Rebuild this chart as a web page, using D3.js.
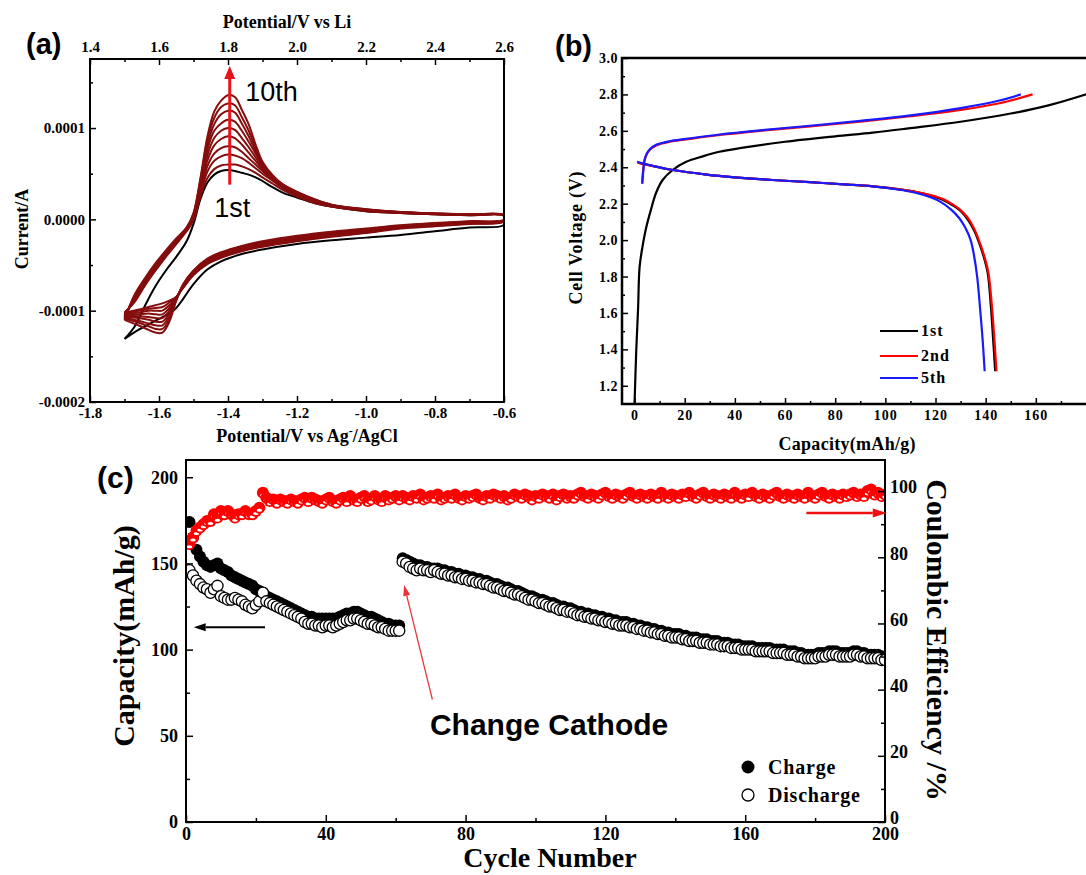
<!DOCTYPE html>
<html>
<head>
<meta charset="utf-8">
<script src="https://cdn.jsdelivr.net/npm/d3@7"></script>
<style>
  body { margin: 0; background: #fff; }
</style>
</head>
<body>
<svg id="fig" width="1086" height="875"></svg>
<script>
// ---------- (a) cyclic voltammetry, current in units of 1e-4 A ----------
var cvAnodicV = [-1.70,-1.67,-1.64,-1.61,-1.58,-1.55,-1.52,-1.50,-1.48,-1.46,-1.44,-1.42,-1.40,-1.38,
  -1.36,-1.34,-1.32,-1.30,-1.27,-1.24,-1.20,-1.15,-1.10,-1.00,-0.90,-0.80,-0.70,-0.60];
var cvCathodicV = [-0.60,-0.70,-0.80,-0.90,-1.00,-1.10,-1.20,-1.30,-1.36,-1.42,-1.46,-1.50,-1.53,
  -1.55,-1.57,-1.59,-1.61,-1.63,-1.66,-1.70];

// one row per cycle, 1st .. 10th
var cvAnodicI = [
  [-1.31,-1.17,-0.94,-0.73,-0.56,-0.41,-0.24,-0.05,0.22,0.40,0.49,0.53,0.54,0.53,0.51,0.49,0.46,0.42,0.35,0.29,0.24,0.18,0.14,0.09,0.07,0.055,0.045,0.04],
  [-1.02,-0.90,-0.72,-0.56,-0.41,-0.27,-0.13,-0.01,0.25,0.45,0.55,0.59,0.60,0.60,0.58,0.55,0.51,0.46,0.39,0.32,0.25,0.18,0.14,0.09,0.07,0.055,0.045,0.04],
  [-1.03,-0.89,-0.71,-0.55,-0.40,-0.26,-0.12,0.00,0.28,0.52,0.64,0.69,0.71,0.70,0.67,0.62,0.56,0.50,0.42,0.34,0.26,0.19,0.14,0.095,0.07,0.057,0.047,0.04],
  [-1.04,-0.88,-0.70,-0.54,-0.39,-0.25,-0.12,0.01,0.30,0.58,0.72,0.78,0.80,0.79,0.74,0.67,0.60,0.53,0.43,0.35,0.27,0.19,0.145,0.10,0.072,0.058,0.048,0.042],
  [-1.05,-0.87,-0.69,-0.53,-0.38,-0.25,-0.11,0.02,0.33,0.64,0.81,0.88,0.91,0.89,0.82,0.73,0.64,0.55,0.44,0.36,0.28,0.20,0.15,0.10,0.074,0.06,0.05,0.043],
  [-1.06,-0.86,-0.68,-0.52,-0.37,-0.24,-0.11,0.03,0.36,0.70,0.89,0.97,1.00,0.98,0.89,0.79,0.68,0.57,0.45,0.36,0.28,0.20,0.15,0.10,0.075,0.06,0.05,0.043],
  [-1.07,-0.85,-0.67,-0.51,-0.37,-0.23,-0.10,0.04,0.38,0.76,0.97,1.05,1.09,1.07,0.97,0.85,0.72,0.59,0.46,0.37,0.29,0.21,0.155,0.105,0.077,0.062,0.052,0.044],
  [-1.08,-0.84,-0.66,-0.50,-0.36,-0.23,-0.10,0.05,0.41,0.81,1.04,1.15,1.19,1.17,1.05,0.91,0.75,0.60,0.47,0.37,0.29,0.21,0.155,0.105,0.078,0.063,0.053,0.044],
  [-1.09,-0.83,-0.65,-0.49,-0.35,-0.22,-0.09,0.06,0.43,0.86,1.11,1.23,1.27,1.25,1.12,0.97,0.78,0.61,0.47,0.38,0.30,0.22,0.16,0.11,0.08,0.064,0.054,0.045],
  [-1.10,-0.82,-0.64,-0.48,-0.34,-0.21,-0.09,0.07,0.45,0.90,1.18,1.30,1.36,1.34,1.20,1.04,0.82,0.63,0.48,0.38,0.30,0.22,0.16,0.11,0.08,0.065,0.055,0.045]
];
var cvCathodicI = [
  [-0.06,-0.09,-0.13,-0.17,-0.20,-0.23,-0.27,-0.33,-0.38,-0.46,-0.55,-0.71,-0.87,-0.97,-1.03,-1.07,-1.11,-1.15,-1.21,-1.31],
  [-0.025,-0.05,-0.075,-0.10,-0.15,-0.19,-0.24,-0.30,-0.35,-0.42,-0.49,-0.61,-0.75,-0.85,-0.89,-0.92,-0.94,-0.96,-0.99,-1.02],
  [-0.022,-0.046,-0.071,-0.096,-0.144,-0.183,-0.233,-0.293,-0.343,-0.413,-0.483,-0.604,-0.745,-0.85,-0.91,-0.96,-0.97,-0.98,-1.00,-1.03],
  [-0.020,-0.042,-0.066,-0.091,-0.138,-0.176,-0.225,-0.285,-0.335,-0.405,-0.475,-0.598,-0.74,-0.86,-0.94,-1.00,-1.00,-1.00,-1.02,-1.04],
  [-0.017,-0.039,-0.062,-0.087,-0.131,-0.169,-0.218,-0.278,-0.328,-0.398,-0.468,-0.591,-0.735,-0.86,-0.97,-1.04,-1.04,-1.03,-1.04,-1.05],
  [-0.015,-0.035,-0.058,-0.083,-0.125,-0.163,-0.21,-0.27,-0.32,-0.39,-0.46,-0.585,-0.73,-0.87,-1.00,-1.08,-1.08,-1.07,-1.06,-1.06],
  [-0.012,-0.031,-0.053,-0.078,-0.119,-0.156,-0.203,-0.263,-0.313,-0.383,-0.453,-0.579,-0.725,-0.87,-1.03,-1.12,-1.12,-1.10,-1.08,-1.07],
  [-0.010,-0.027,-0.049,-0.074,-0.113,-0.149,-0.195,-0.255,-0.305,-0.375,-0.445,-0.573,-0.72,-0.88,-1.06,-1.16,-1.16,-1.14,-1.11,-1.08],
  [-0.007,-0.024,-0.044,-0.069,-0.106,-0.142,-0.188,-0.248,-0.298,-0.368,-0.438,-0.566,-0.715,-0.88,-1.09,-1.20,-1.20,-1.17,-1.13,-1.09],
  [-0.005,-0.02,-0.04,-0.065,-0.10,-0.135,-0.18,-0.24,-0.29,-0.36,-0.43,-0.56,-0.71,-0.89,-1.12,-1.24,-1.24,-1.21,-1.16,-1.10]
];

// ---------- (b) charge / discharge profiles ----------
var chg1Cap = [0,0.7,1.4,2.0,3.0,4.5,6.6,8.6,11.2,15.2,20.6,27.2,33.8,42,60,80,95,110,130,150,165,181];
var chg1V   = [1.10,1.40,1.62,1.85,1.95,2.06,2.17,2.26,2.33,2.385,2.43,2.46,2.485,2.505,2.54,2.57,2.59,2.615,2.65,2.695,2.74,2.805];
var chg2Cap = [3.0,3.4,4.0,5.0,6.0,8.6,13.9,20.6,33.9,50,70,90,110,130,145,158.7];
var chg2V   = [2.31,2.38,2.44,2.475,2.495,2.52,2.54,2.553,2.577,2.60,2.625,2.65,2.68,2.715,2.75,2.80];
var chg5Cap = [3.1,3.5,4.0,5.0,6.0,8.6,13.9,20.6,33.9,50,70,90,110,130,145,154];
var chg5V   = [2.31,2.38,2.44,2.478,2.498,2.523,2.543,2.556,2.58,2.603,2.628,2.655,2.685,2.725,2.765,2.80];
var dis1Cap = [1.3,8,15.3,28.7,40,55,70,85,95,105,112,118,123,127,130,133,135.5,137.5,139.4,140.8,142,143,143.8];
var dis1V   = [2.425,2.405,2.385,2.36,2.345,2.33,2.318,2.305,2.295,2.28,2.265,2.245,2.22,2.19,2.16,2.11,2.05,1.98,1.90,1.82,1.65,1.45,1.28];
var dis2Cap = [1.3,8,15.3,28.7,40,55,70,85,95,105,112,118,123,127,130,133,135.5,137.8,139.7,141.1,142.4,143.5,144.3];
var dis2V   = [2.425,2.405,2.385,2.36,2.345,2.33,2.318,2.305,2.295,2.28,2.265,2.247,2.225,2.195,2.165,2.12,2.06,1.98,1.90,1.82,1.65,1.45,1.28];
var dis5Cap = [1.0,8,15.3,28.7,40,55,70,85,95,105,112,118,122,126,129.5,132,134,135.3,136.6,137.8,138.8,139.6];
var dis5V   = [2.43,2.405,2.385,2.36,2.345,2.33,2.318,2.305,2.295,2.278,2.26,2.235,2.21,2.17,2.12,2.065,2.0,1.92,1.80,1.62,1.45,1.28];
var legendB = ["1st", "2nd", "5th"];

// ---------- (c) cycling ----------
var chargeCap = [
  174,165,158,154,151,149,148,149,150,147, 146,145,143,142,141,140,139,138,137,135,
  134,133,131,130,129,128,127,126,125,124, 123,122,121,120,119,119,118,118,118,118,
  118,118,118,119,120,121,121,122,122,121, 120,119,119,118,117,116,115,115,114,114,
  114,153,152,151,150,149,149,148,148,147, 147,147,146,146,145,145,144,144,143,143,
  142,142,141,141,140,140,139,138,138,137, 136,136,135,134,134,133,132,131,131,130,
  129,129,128,127,127,126,125,125,124,124, 123,122,122,121,121,120,120,119,119,118,
  118,117,117,116,116,116,115,115,114,114, 113,113,112,112,111,111,110,110,109,109,
  109,108,108,107,107,107,106,106,106,105, 105,105,104,104,104,103,103,103,102,102,
  102,102,101,101,101,101,101,100,100,100, 100,99,99,99,98,98,97,97,97,97,
  98,98,98,99,99,99,98,98,98,98, 99,99,98,98,97,97,97,97,96,96
];
var dischargeCap = [
  146,143,140,138,136,135,133,135,137,131, 130,129,129,130,129,128,126,125,124,126,
  128,133,128,127,126,125,124,123,122,121, 120,119,118,116,115,115,114,114,113,114,
  114,113,114,115,116,117,117,118,118,117, 116,115,115,114,113,113,112,111,111,111,
  111,151,150,148,147,146,147,146,146,145, 146,145,144,144,143,143,142,142,141,141,
  140,140,139,139,138,138,137,136,136,135, 134,134,133,132,132,131,130,129,129,128,
  127,127,126,125,125,124,123,123,122,122, 121,120,120,119,119,118,118,117,117,116,
  116,115,115,114,114,114,113,113,112,112, 111,111,110,110,109,109,108,108,107,107,
  107,106,106,105,105,105,104,104,104,103, 103,103,102,102,102,101,101,101,100,100,
  100,100,99,99,99,99,99,98,98,98, 98,97,97,97,96,96,95,95,95,95,
  96,96,96,97,97,97,96,96,96,96, 97,97,96,96,95,95,95,95,94,94
];
var coulombicEff = [
  84,86,88,89,90,91,91,93,92,94, 93,94,93,92,93,93,94,93,93,94,
  95,99.5,98,97,97.5,96.5,97.5,97,96.5,97.5, 97,96.5,97.5,98,97,98,97.5,97,96.5,97.5,
  98,97,96.5,97.5,98,97,98.5,97.5,97,98, 98.5,97,97.5,98.5,97.5,97,98.5,97.5,98,98.5,
  97.5,98.5,98,97.5,98.5,98,99,97.5,98,98.5, 98,99,97.5,98,98.5,98,99,98,97.5,98.5,
  98,98.5,99,98,97.5,98.5,98,99,98.5,98, 98.5,97.5,98,99,98.5,98,99,98.5,97.5,98.5,
  98,99,98.5,98,99,97.5,98.5,99,98,98.5, 98,99,99.5,98.5,98,99,98.5,98,99,99.5,
  98.5,98,99,98.5,98,99,99.5,98.5,98,99, 98.5,98,99,98.5,98,99.5,98.5,98,99,98.5,
  98,99,98.5,99.5,98.5,98,99,99.5,98.5,98, 99,98.5,98,99,98.5,98,99.5,98.5,98,99,
  98.5,99.5,98.5,98,99,98.5,98,99,99.5,98.5, 98,99,98.5,98,99,98.5,98,99.5,98.5,98,
  99,99.5,98.5,98,99,98.5,98,99,98.5,99, 99.5,98.5,99,98.5,100,100.5,99,99.5,98.5,99
];
var legendC = ["Charge", "Discharge"];

var serif = "'Liberation Serif','Times New Roman',serif",
    sans = "'Liberation Sans',Arial,sans-serif";
var cvRed = "#850d0d";

var svg = d3.select("#fig");

// Axis helper: inward ticks, no domain line
function addAxis(gen, x, y, size) {
  var g = svg.append("g")
    .attr("transform", "translate(" + x + "," + y + ")")
    .call(gen);
  g.select(".domain").remove();
  g.attr("font-family", serif)
    .attr("font-size", size)
    .attr("font-weight", "bold");
  g.selectAll(".tick line").attr("stroke", "#000").attr("stroke-width", 1.5);
  g.selectAll(".tick text").attr("fill", "#000");
  return g;
}

function arrow(g, x1, y1, x2, y2, color, width, len, half) {
  var a = Math.atan2(y2 - y1, x2 - x1),
      bx = x2 - len * Math.cos(a),
      by = y2 - len * Math.sin(a);
  g.append("line")
    .attr("x1", x1).attr("y1", y1).attr("x2", bx).attr("y2", by)
    .attr("stroke", color).attr("stroke-width", width);
  g.append("path")
    .attr("d", "M" + x2 + "," + y2 +
      "L" + (bx + half * Math.sin(a)) + "," + (by - half * Math.cos(a)) +
      "L" + (bx - half * Math.sin(a)) + "," + (by + half * Math.cos(a)) + "Z")
    .attr("fill", color);
}

function label(text, x, y, size, font, extra) {
  var t = svg.append("text")
    .attr("x", x).attr("y", y)
    .attr("font-family", font)
    .attr("font-size", size)
    .attr("font-weight", "bold")
    .text(text);
  if (extra) extra(t);
  return t;
}

function fixed(n) { return function(d) { return d.toFixed(n); }; }

// ================= Panel (a) =================
var xA = d3.scaleLinear().domain([-1.8, -0.6]).range([90, 504]),
    xLi = d3.scaleLinear().domain([1.4, 2.6]).range([90, 504]),
    yA = d3.scaleLinear().domain([-2, 1.756]).range([402, 59]);

svg.append("clipPath").attr("id", "clipA").append("rect")
  .attr("x", 90).attr("y", 59).attr("width", 414).attr("height", 343);

var gA = svg.append("g").attr("clip-path", "url(#clipA)");
var cvLine = d3.line()
  .x(function(d) { return xA(d[0]); })
  .y(function(d) { return yA(d[1]); })
  .curve(d3.curveCatmullRom.alpha(0.5));

cvAnodicI.forEach(function(an, i) {
  var pts = cvAnodicV.map(function(v, j) { return [v, an[j]]; })
    .concat(cvCathodicV.map(function(v, j) { return [v, cvCathodicI[i][j]]; }));
  gA.append("path")
    .attr("d", cvLine(pts))
    .attr("fill", "none")
    .attr("stroke", i == 0 ? "#000" : cvRed)
    .attr("stroke-width", 2);
});

// Frame
svg.append("rect").attr("x", 90).attr("y", 59).attr("width", 414).attr("height", 343)
  .attr("fill", "none").attr("stroke", "#000").attr("stroke-width", 2);

addAxis(d3.axisBottom(xA).tickValues(d3.range(-1.8, -0.55, 0.2)).tickFormat(fixed(1)).tickSize(-6).tickPadding(5), 0, 402, 15);
addAxis(d3.axisBottom(xA).tickValues(d3.range(-1.7, -0.6, 0.2)).tickFormat("").tickSize(-3), 0, 402, 15);
addAxis(d3.axisTop(xLi).tickValues(d3.range(1.4, 2.65, 0.2)).tickFormat(fixed(1)).tickSize(-6).tickPadding(7), 0, 59, 15);
addAxis(d3.axisTop(xLi).tickValues(d3.range(1.5, 2.6, 0.2)).tickFormat("").tickSize(-3), 0, 59, 15);
addAxis(d3.axisLeft(yA).tickValues([-2, -1, 0, 1]).tickFormat(function(d) { return (d * 1e-4).toFixed(4); }).tickSize(-6).tickPadding(5), 90, 0, 15);
addAxis(d3.axisLeft(yA).tickValues([-1.5, -0.5, 0.5, 1.5]).tickFormat("").tickSize(-3), 90, 0, 15);

label("Potential/V vs Li", 287, 28, 18, serif, function(t) { t.attr("text-anchor", "middle"); });
var tA = label("Potential/V vs Ag", 307, 442, 18, serif, function(t) { t.attr("text-anchor", "middle"); });
tA.append("tspan").attr("dy", -7).attr("font-size", 12).text("-");
tA.append("tspan").attr("dy", 7).text("/AgCl");
label("Current/A", 0, 0, 18, serif, function(t) {
  t.attr("text-anchor", "middle").attr("transform", "translate(28,229) rotate(-90)");
});
label("(a)", 26, 54, 29, sans);

// Cycle arrow
var gAnn = svg.append("g");
arrow(gAnn, xA(-1.395), yA(0.38), xA(-1.395), yA(1.68), "#e8141b", 3, 13, 5.5);
svg.append("text").attr("x", xA(-1.35)).attr("y", yA(1.30))
  .attr("font-family", sans).attr("font-size", 27).text("10th");
svg.append("text").attr("x", xA(-1.44)).attr("y", yA(0.03))
  .attr("font-family", sans).attr("font-size", 27).text("1st");

// ================= Panel (b) =================
var xB = d3.scaleLinear().domain([-5, 180]).range([622, 1086]),
    yB = d3.scaleLinear().domain([1.1, 3.0]).range([404, 58]);

svg.append("clipPath").attr("id", "clipB").append("rect")
  .attr("x", 622).attr("y", 58).attr("width", 470).attr("height", 346);

var gB = svg.append("g").attr("clip-path", "url(#clipB)");
var vLine = d3.line()
  .x(function(d) { return xB(d[0]); })
  .y(function(d) { return yB(d[1]); })
  .curve(d3.curveCatmullRom.alpha(0.5));

var seriesB = [
  [chg1Cap, chg1V, "#000"], [dis1Cap, dis1V, "#000"],
  [chg2Cap, chg2V, "#ff0000"], [dis2Cap, dis2V, "#ff0000"],
  [chg5Cap, chg5V, "#1a1aff"], [dis5Cap, dis5V, "#1a1aff"]
];
seriesB.forEach(function(s) {
  gB.append("path")
    .attr("d", vLine(s[0].map(function(c, j) { return [c, s[1][j]]; })))
    .attr("fill", "none")
    .attr("stroke", s[2])
    .attr("stroke-width", 2.2);
});

svg.append("path").attr("d", "M1090,58H622V404H1090")
  .attr("fill", "none").attr("stroke", "#000").attr("stroke-width", 2.5);

addAxis(d3.axisLeft(yB).tickValues(d3.range(1.2, 3.05, 0.2)).tickFormat(fixed(1)).tickSize(-6).tickPadding(4), 622, 0, 14)
  .attr("letter-spacing", 0.5);
addAxis(d3.axisLeft(yB).tickValues(d3.range(1.3, 3.0, 0.2)).tickFormat("").tickSize(-3), 622, 0, 14);
addAxis(d3.axisBottom(xB).tickValues(d3.range(0, 161, 20)).tickFormat(d3.format("d")).tickSize(-6).tickPadding(6), 0, 404, 14)
  .attr("letter-spacing", 1);
addAxis(d3.axisBottom(xB).tickValues(d3.range(10, 171, 20)).tickFormat("").tickSize(-3), 0, 404, 14);

label("Capacity(mAh/g)", 847, 450, 18, serif, function(t) {
  t.attr("text-anchor", "middle").attr("textLength", 137).attr("lengthAdjust", "spacing");
});
label("Cell Voltage (V)", 0, 0, 18, serif, function(t) {
  t.attr("text-anchor", "middle").attr("transform", "translate(582,238) rotate(-90)")
    .attr("textLength", 133).attr("lengthAdjust", "spacing");
});
label("(b)", 555, 56, 29, sans);

// Legend
var legColors = ["#000", "#ff0000", "#1a1aff"],
    legY = [331, 356, 378];
legendB.forEach(function(name, i) {
  svg.append("line").attr("x1", 880).attr("x2", 918).attr("y1", legY[i]).attr("y2", legY[i])
    .attr("stroke", legColors[i]).attr("stroke-width", 2.2);
  label(name, 921, legY[i] + 5, 16, serif, function(t) { t.attr("letter-spacing", 1); });
});

// ================= Panel (c) =================
var xC = d3.scaleLinear().domain([0, 200]).range([186, 885]),
    yC = d3.scaleLinear().domain([0, 210]).range([822, 460]),
    yCE = d3.scaleLinear().domain([0, 109.4]).range([822, 460]);

svg.append("clipPath").attr("id", "clipC").append("rect")
  .attr("x", 186).attr("y", 460).attr("width", 699).attr("height", 362);

var gC = svg.append("g").attr("clip-path", "url(#clipC)");
var cycles = d3.range(1, chargeCap.length + 1);

gC.append("g").selectAll("circle")
  .data(cycles).enter()
  .append("circle")
    .attr("cx", function(d) { return xC(d); })
    .attr("cy", function(d, i) { return yC(chargeCap[i]); })
    .attr("r", 6)
    .attr("fill", "#000");

gC.append("g").selectAll("circle")
  .data(cycles).enter()
  .append("circle")
    .attr("cx", function(d) { return xC(d); })
    .attr("cy", function(d, i) { return yC(dischargeCap[i]); })
    .attr("r", 5.6)
    .attr("fill", "#fff")
    .attr("stroke", "#000")
    .attr("stroke-width", 1.3);

// Coulombic efficiency: red markers with a white bottom spot
var ce = gC.append("g").selectAll("g")
  .data(cycles).enter()
  .append("g")
    .attr("transform", function(d, i) {
      return "translate(" + xC(d) + "," + yCE(coulombicEff[i]) + ")";
    });
ce.append("circle").attr("r", 6).attr("fill", "#ff0000");
ce.append("ellipse").attr("cy", 2.6).attr("rx", 2.8).attr("ry", 1.5).attr("fill", "#fff");

svg.append("rect").attr("x", 186).attr("y", 460).attr("width", 699).attr("height", 362)
  .attr("fill", "none").attr("stroke", "#000").attr("stroke-width", 2);

addAxis(d3.axisLeft(yC).tickValues([0, 50, 100, 150, 200]).tickSize(-7).tickPadding(8), 186, 0, 18);
addAxis(d3.axisLeft(yC).tickValues([25, 75, 125, 175]).tickFormat("").tickSize(-4), 186, 0, 18);
addAxis(d3.axisBottom(xC).tickValues(d3.range(0, 201, 40)).tickSize(-7).tickPadding(5), 0, 822, 18);
addAxis(d3.axisBottom(xC).tickValues(d3.range(20, 200, 40)).tickFormat("").tickSize(-4), 0, 822, 18);
addAxis(d3.axisRight(yCE).tickValues(d3.range(0, 101, 20)).tickSize(-7).tickPadding(5), 885, 0, 18)
  .selectAll(".tick text").attr("dy", "0.1em");
addAxis(d3.axisRight(yCE).tickValues(d3.range(10, 100, 20)).tickFormat("").tickSize(-4), 885, 0, 18);

label("Capacity(mAh/g)", 0, 0, 30, serif, function(t) {
  t.attr("text-anchor", "middle").attr("transform", "translate(134,636) rotate(-90)");
});
label("Coulombic Efficiency /%", 0, 0, 30, serif, function(t) {
  t.attr("text-anchor", "middle").attr("transform", "translate(927,640) rotate(90)");
});
label("Cycle Number", 550, 867, 28, serif, function(t) { t.attr("text-anchor", "middle"); });
label("(c)", 97, 488, 30, sans);

// Annotations
var gCA = svg.append("g");
arrow(gCA, xC(22.6), yC(113), xC(2.2), yC(113), "#000", 2, 12, 4);
arrow(gCA, xC(177.5), yCE(93.4), xC(200.5), yCE(93.4), "#f01010", 2.5, 14, 4.5);
arrow(gCA, xC(70.5), yC(71), xC(62.4), yC(137.5), "#e8343a", 1.3, 11, 3.5);
label("Change Cathode", xC(69.8), yC(50.5), 30, sans);

// Legend
svg.append("circle").attr("cx", 748).attr("cy", 767).attr("r", 6.5).attr("fill", "#000");
svg.append("circle").attr("cx", 748).attr("cy", 795).attr("r", 6)
  .attr("fill", "#fff").attr("stroke", "#000").attr("stroke-width", 1.3);
label(legendC[0], 768, 774, 20, serif, function(t) { t.attr("letter-spacing", 0.8); });
label(legendC[1], 768, 802, 20, serif, function(t) { t.attr("letter-spacing", 0.8); });
</script>
</body>
</html>
